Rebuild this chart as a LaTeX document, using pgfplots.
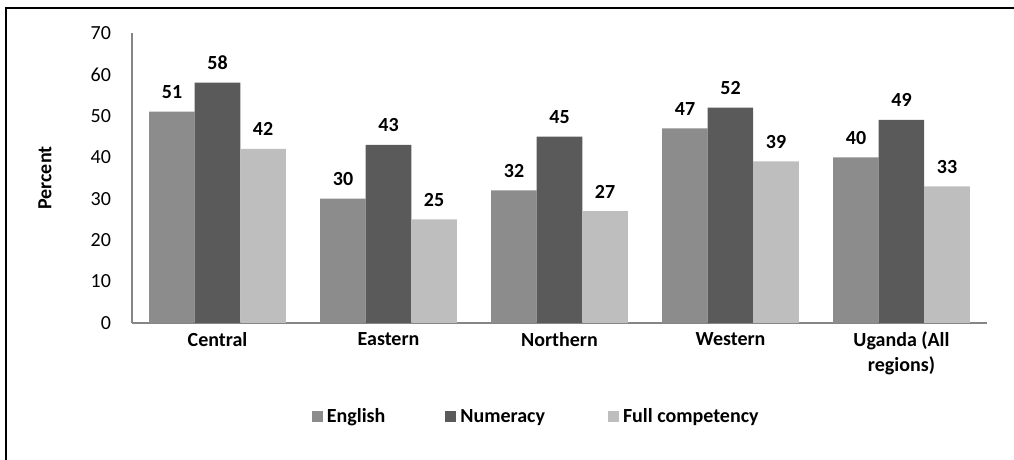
\documentclass[border=0pt]{standalone}
\usepackage{pgfplots}
\pgfplotsset{compat=1.18}
\usepackage{fontspec}
\setmainfont{Carlito}
\definecolor{engl}{RGB}{140,140,140}
\definecolor{numer}{RGB}{90,90,90}
\definecolor{fullc}{RGB}{190,190,190}
\definecolor{axisgray}{RGB}{134,134,134}
\begin{document}
\fontsize{10}{12.5}\selectfont
\begin{tikzpicture}
% canvas: 1 px = 0.5 pt
\path[use as bounding box] (0,0) rectangle (507pt,230pt);
\draw[line width=0.9pt] (3pt,0) -- (3pt,226pt) -- (507pt,226pt);
\begin{axis}[
  at={(66pt,68.5pt)}, anchor=south west,
  scale only axis, width=427.5pt, height=145pt,
  ybar=0pt, bar width=22.75pt,
  xmin=-0.5, xmax=4.5, ymin=0, ymax=70,
  xtick={0,1,2,3,4},
  xticklabels={Central,Eastern,Northern,Western,{Uganda (All\\regions)}},
  xticklabel style={font=\bfseries, align=center, yshift=-1pt},
  ytick={0,10,...,70},
  yticklabel style={xshift=-7pt},
  /pgf/number format/assume math mode=true,
  major tick length=0pt,
  axis x line*=bottom, axis y line*=left,
  axis line style={draw=axisgray, line width=0.8pt},
  x axis line style={-}, y axis line style={-},
  ylabel={\bfseries Percent},
  every axis y label/.style={at={(axis description cs:-0.1018,0.5)}, rotate=90, anchor=center},
  nodes near coords,
  every node near coord/.append style={font=\bfseries, yshift=3pt},
  legend columns=3,
  legend style={at={(axis description cs:0.474,-0.324)}, anchor=center, draw=none,
    nodes={text height=1.5ex, text depth=0.4ex},
    /tikz/column 2/.style={column sep=28pt},
    /tikz/column 4/.style={column sep=29.5pt}, font=\bfseries},
  legend image code/.code={\fill[#1] (0pt,-2.75pt) rectangle (5.5pt,2.75pt);},
]
\addplot[fill=engl, draw=none] coordinates {(0,51) (1,30) (2,32) (3,47) (4,40)};
\addplot[fill=numer, draw=none] coordinates {(0,58) (1,43) (2,45) (3,52) (4,49)};
\addplot[fill=fullc, draw=none] coordinates {(0,42) (1,25) (2,27) (3,39) (4,33)};
\legend{English,Numeracy,Full competency}
\end{axis}
\end{tikzpicture}
\end{document}
